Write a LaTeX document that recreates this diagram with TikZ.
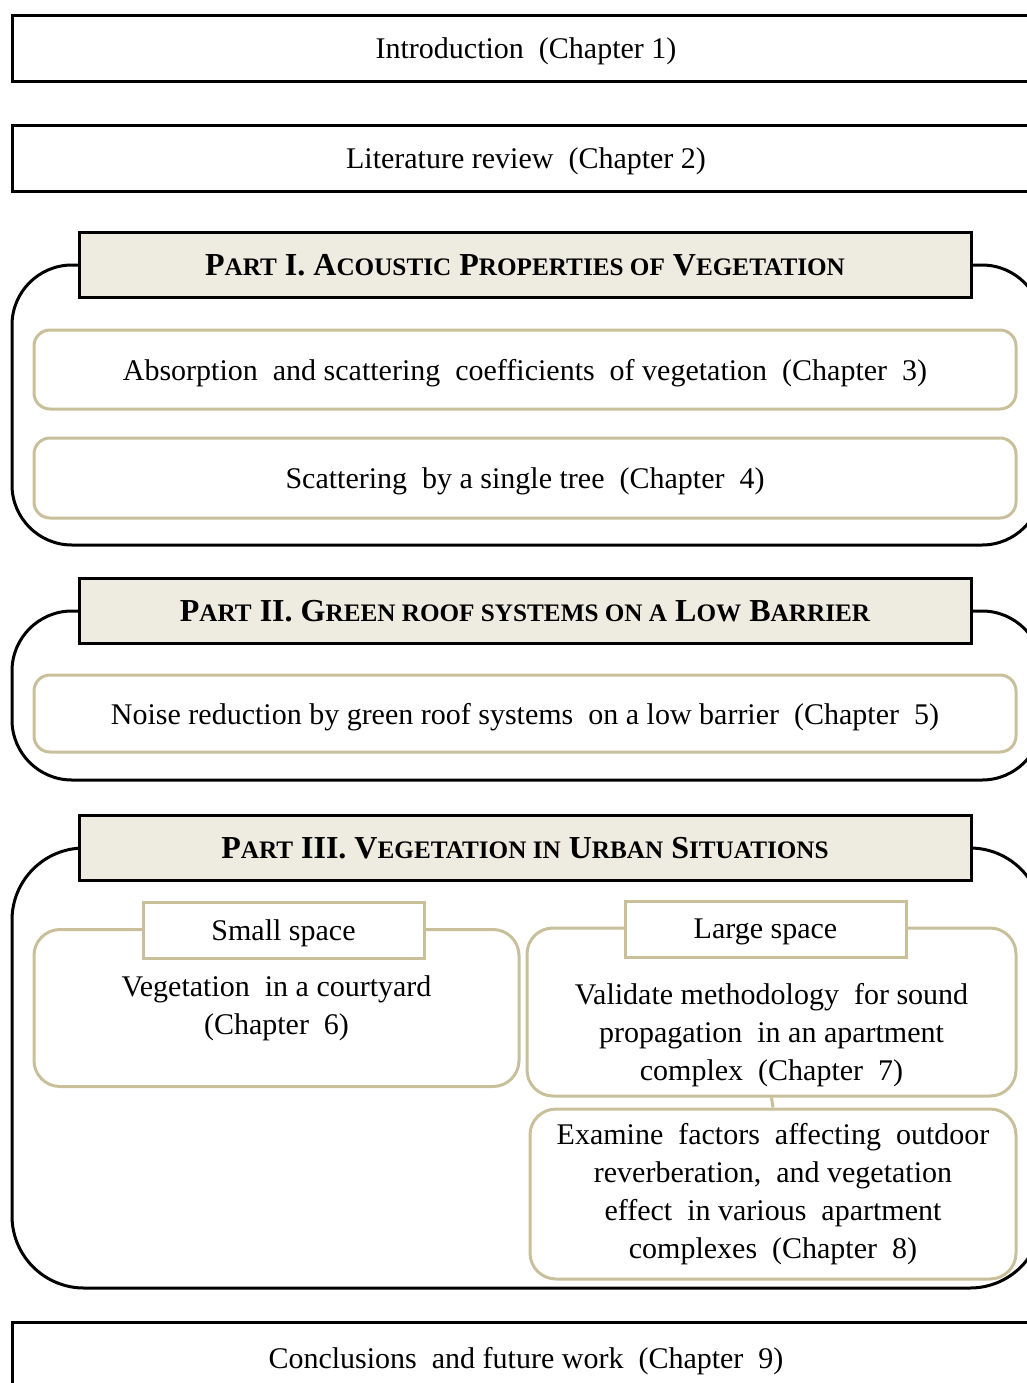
\documentclass[tikz,border=0pt]{standalone}
\usepackage{fontspec}
\setmainfont{Liberation Serif}
\definecolor{tan}{RGB}{201,192,155}
\definecolor{parchment}{RGB}{238,236,225}
\newcommand{\smc}[1]{{\fontsize{12.6}{14}\selectfont #1}}
\begin{document}
\begin{tikzpicture}[x=0.5pt,y=-0.5pt]
        \tikzset{
          every node/.style={font=\fontsize{15}{19}\selectfont},
          plainbox/.style={draw=black, line width=1.5pt, minimum width=514pt, minimum height=33pt, text depth=0pt},
          partframe/.style={draw=black, line width=1.5pt},
          partbox/.style={draw=black, line width=1.5pt, fill=parchment, minimum width=446pt, minimum height=32.5pt, text depth=0pt, font=\fontsize{16}{19}\selectfont\bfseries},
          chapbox/.style={draw=tan, line width=1.5pt, rounded corners=8pt, minimum width=491pt, text depth=0pt, align=center},
          subbox/.style={draw=tan, line width=1.5pt, rounded corners=13pt, align=center},
          tabbox/.style={draw=tan, line width=1.5pt, fill=white, minimum width=140.5pt, minimum height=28pt, text depth=0pt}
        }
        \useasboundingbox (0,0) rectangle (1027,1383);
        % top boxes
        \node [plainbox] (intro) at (526,48) {Introduction \ (Chapter 1)};
        \node [plainbox] (litrev) at (526,158.5) {Literature review \ (Chapter 2)};
        % part I
        \draw [partframe, rounded corners=30pt] (12,265) rectangle (1042,545);
        \node [partbox] (part1) at (525,264.5) {P\smc{ART} I. A\smc{COUSTIC} P\smc{ROPERTIES OF} V\smc{EGETATION}};
        \node [chapbox, minimum height=39.5pt] (ch3) at (525,369.5) {Absorption \ and scattering \ coefficients \ of vegetation \ (Chapter \ 3)};
        \node [chapbox, minimum height=40pt] (ch4) at (525,478) {Scattering \ by a single tree \ (Chapter \ 4)};
        % part II
        \draw [partframe, rounded corners=30pt] (12,611) rectangle (1042,780);
        \node [partbox] (part2) at (525,610.5) {P\smc{ART} II. G\smc{REEN ROOF SYSTEMS ON A} L\smc{OW} B\smc{ARRIER}};
        \node [chapbox, minimum height=38.5pt] (ch5) at (525,713.5) {Noise reduction by green roof systems \ on a low barrier \ (Chapter \ 5)};
        % part III
        \draw [partframe, rounded corners=36pt] (12,848) rectangle (1042,1288);
        \node [partbox] (part3) at (525,847.5) {P\smc{ART} III. V\smc{EGETATION IN} U\smc{RBAN} S\smc{ITUATIONS}};
        \node [subbox, minimum width=242.5pt, minimum height=78.5pt] (ch6) at (276.5,1008) {Vegetation \ in a courtyard\\(Chapter \ 6)};
        \node [tabbox] (small) at (283.5,930) {Small space};
        \node [subbox, minimum width=244.5pt, minimum height=84pt] (ch7) at (771.5,1012) {};
        \node [align=center] (ch7text) at (771.5,1035) {Validate methodology \ for sound\\propagation \ in an apartment\\complex \ (Chapter \ 7)};
        \node [tabbox] (large) at (765.5,929) {Large space};
        \node [subbox, minimum width=243pt, minimum height=85pt] (ch8) at (773,1194) {Examine \ factors \ affecting \ outdoor\\reverberation, \ and vegetation\\effect \ in various \ apartment\\complexes \ (Chapter \ 8)};
        \draw [tan, line width=1.5pt] (ch7.south) -- (ch8.north);
        % conclusions
        \node [plainbox, minimum height=36pt] (concl) at (526,1358) {Conclusions \ and future work \ (Chapter \ 9)};
\end{tikzpicture}
\end{document}
